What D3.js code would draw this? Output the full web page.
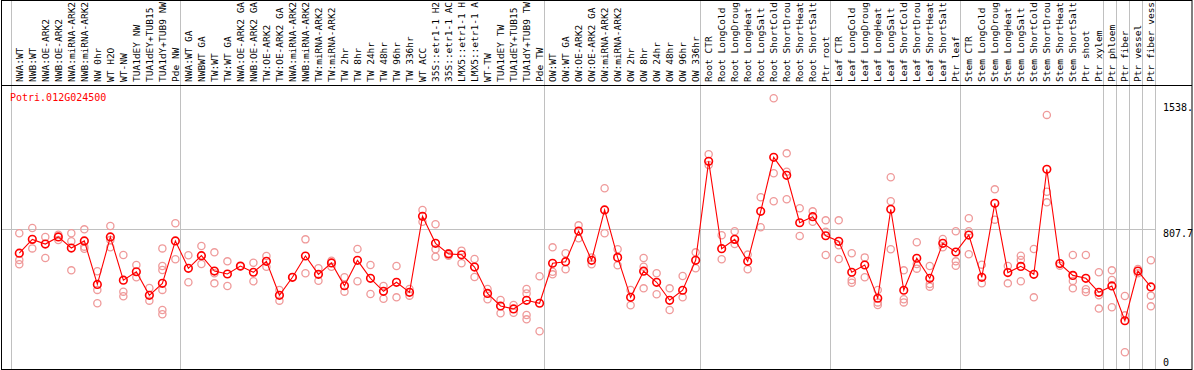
<!DOCTYPE html>
<html>
<head>
<meta charset="utf-8">
<script src="https://cdn.jsdelivr.net/npm/d3@7"></script>
<style>
  html, body { margin: 0; padding: 0; background: #fff; }
  svg { display: block; }
  text { font-family: "DejaVu Sans Mono", monospace; font-size: 10px; }
  text.sample { font-size: 9.5px; }
</style>
</head>
<body>
<div id="chart"></div>
<script>
// Expression profile - one gene across samples

const geneName = 'Potri.012G024500';

// Sample labels (as shown, cut at 14 chars)
const categories = [
    'NWA:WT', 'NWB:WT', 'NWA:OE-ARK2', 'NWB:OE-ARK2', 'NWA:miRNA-ARK2', 'NWB:miRNA-ARK2',
    'NW 0hr', 'WT H2O', 'WT-NW', 'TUA1dEY NW', 'TUA1dEY+TUB15', 'TUA1dY+TUB9 NW', 'Pde NW',
    'NWA:WT GA', 'NWBWT GA', 'TW:WT', 'TW:WT GA', 'NWA:OE-ARK2 GA', 'NWB:OE-ARK2 GA',
    'TW:OE-ARK2', 'TW:OE-ARK2 GA', 'NWA:miRNA-ARK2', 'NWB:miRNA-ARK2', 'TW:miRNA-ARK2', 'TW:miRNA-ARK2',
    'TW 2hr', 'TW 8hr', 'TW 24hr', 'TW 48hr', 'TW 96hr', 'TW 336hr', 'WT ACC',
    '35S::etr1-1 H2', '35S::etr1-1 AC', 'LMX5::etr1-1 H', 'LMX5::etr1-1 A', 'WT-TW',
    'TUA1dEY TW', 'TUA1dEY+TUB15', 'TUA1dY+TUB9 TW', 'Pde TW',
    'OW:WT', 'OW:WT GA', 'OW:OE-ARK2', 'OW:OE-ARK2 GA', 'OW:miRNA-ARK2', 'OW:miRNA-ARK2',
    'OW 2hr', 'OW 8hr', 'OW 24hr', 'OW 48hr', 'OW 96hr', 'OW 336hr',
    'Root CTR', 'Root LongCold', 'Root LongDroug', 'Root LongHeat', 'Root LongSalt',
    'Root ShortCold', 'Root ShortDrou', 'Root ShortHeat', 'Root ShortSalt', 'Ptr root',
    'Leaf CTR', 'Leaf LongCold', 'Leaf LongDroug', 'Leaf LongHeat', 'Leaf LongSalt',
    'Leaf ShortCold', 'Leaf ShortDrou', 'Leaf ShortHeat', 'Leaf ShortSalt', 'Ptr leaf',
    'Stem CTR', 'Stem LongCold', 'Stem LongDroug', 'Stem LongHeat', 'Stem LongSalt',
    'Stem ShortCold', 'Stem ShortDrou', 'Stem ShortHeat', 'Stem ShortSalt', 'Ptr shoot', 'Ptr xylem',
    'Ptr phloem', 'Ptr fiber', 'Ptr vessel', 'Ptr fiber vess'
];

// Mean expression per sample
const means = [
    666, 746, 719, 760, 696, 737, 486, 760, 510, 559, 423, 492, 737,
    579, 652, 563, 546, 592, 556, 619, 423, 527, 650, 544, 610, 478, 625, 521, 446, 498, 440,
    879, 723, 662, 657, 586, 434, 361, 344, 394, 377,
    608, 617, 794, 625, 916, 642, 411, 562, 498, 394, 452, 625,
    1197, 692, 746, 619, 908, 1220, 1116, 842, 877, 767,
    735, 556, 598, 406, 920, 452, 637, 521, 723, 673,
    771, 527, 954, 554, 590, 544, 1151, 606, 538, 521, 440,
    477, 276, 563, 471
];

// Replicate values per sample
const replicates = [
    [781, 627, 602], [812, 694], [760, 638], [773, 742], [781, 735, 567], [804, 704, 692],
    [562, 454, 377], [823, 700, 742], [656, 444, 417], [598, 527], [465, 392],
    [694, 592, 569, 454, 338, 313], [839, 631],
    [654, 498], [708, 604], [671, 550, 492], [619, 477], [590], [611, 504], [650, 588],
    [454, 392], [527], [746, 550], [579, 507], [623, 588], [527, 444], [690, 504],
    [598, 430], [477, 403], [592, 411], [459, 421], [916, 848], [833, 689, 646],
    [666, 652], [681, 608], [633, 529], [459, 400], [396, 319], [367, 322],
    [459, 434, 309, 284], [533, 215],
    [700, 559, 544], [666, 573], [827, 752], [642, 602], [1041, 781], [689, 596],
    [454, 365], [638, 588, 463], [550, 429], [463, 338], [534, 411], [671, 579],
    [1238, 1176], [770, 631], [793, 719], [658, 573], [989, 816], [1561, 1128, 966],
    [1243, 1137, 978], [926, 766], [908, 848], [856, 790, 656],
    [856, 712, 633], [666, 511, 496], [642, 527], [454, 382, 367], [1105, 966, 689],
    [567, 400, 382], [729, 604, 577], [592, 488, 473], [748, 700], [793, 619, 594],
    [868, 793, 660], [600, 492], [1035, 860], [592, 492], [652, 627, 504], [690, 411],
    [1465, 1021, 960], [594], [656, 506, 463], [656, 458, 442], [556, 423, 346],
    [567, 511, 354], [419, 307, 94], [575, 550], [625, 421, 359]
];

// Column indices where a new sample group starts
const groupBreaks = [0, 13, 41, 53, 63, 73, 84, 85, 86, 87, 88];

// Value axis labels
const yTicks = [0, 807.7, 1538.5];
const yTickLabels = ['0', '807.7', '1538.'];

const width = 1194;
const height = 370;
const headerBottom = 85;
const plotBottom = 369;
const meanColor = '#ff0000';
const repColor = '#ef9a9a';

function renderChart() {
    const svg = d3.select('#chart')
        .append('svg')
        .attr('width', width)
        .attr('height', height);

    const x = d3.scaleBand()
        .domain(d3.range(categories.length))
        .range([10.7, 1155.3]);
    const cx = i => x(i) + 8.6;

    const y = d3.scaleLinear()
        .domain([0, 1538.5])
        .range([368.5, 102.2]);

    // grid lines
    const grid = svg.append('g');
    grid.selectAll('line.v')
        .data(groupBreaks)
        .enter().append('line')
        .attr('class', 'v')
        .attr('x1', d => Math.round(d === categories.length ? x.range()[1] : x(d)) + 0.5)
        .attr('x2', d => Math.round(d === categories.length ? x.range()[1] : x(d)) + 0.5)
        .attr('y1', 0)
        .attr('y2', plotBottom)
        .style('stroke', '#c0c0c0')
        .style('stroke-width', 1);

    grid.append('line')
        .attr('x1', 1)
        .attr('x2', x.range()[1])
        .attr('y1', Math.round(y(807.7)) + 0.5)
        .attr('y2', Math.round(y(807.7)) + 0.5)
        .style('stroke', '#c0c0c0')
        .style('stroke-width', 1);

    // frame
    svg.append('rect')
        .attr('x', 1.5)
        .attr('y', 0.5)
        .attr('width', 1190.5)
        .attr('height', plotBottom)
        .style('fill', 'none')
        .style('stroke', '#000')
        .style('stroke-width', 1);
    svg.append('line')
        .attr('x1', 1)
        .attr('x2', 1192)
        .attr('y1', headerBottom + 0.5)
        .attr('y2', headerBottom + 0.5)
        .style('stroke', '#000')
        .style('stroke-width', 1.2);

    // sample labels (vertical)
    svg.append('g')
        .selectAll('text')
        .data(categories)
        .enter().append('text')
        .attr('class', 'sample')
        .attr('transform', (d, i) => `translate(${cx(i) + 3.5},${headerBottom - 3}) rotate(-90)`)
        .style('fill', '#000')
        .text(d => d);

    // gene name
    svg.append('text')
        .attr('x', 10)
        .attr('y', 101)
        .style('fill', meanColor)
        .text(geneName);

    // value axis labels
    svg.append('g')
        .selectAll('text')
        .data(yTicks)
        .enter().append('text')
        .attr('x', 1163)
        .attr('y', d => Math.min(y(d) + 8.8, 366))
        .style('fill', '#000')
        .text((d, i) => yTickLabels[i]);

    // replicate points
    const reps = [];
    replicates.forEach((vals, i) => vals.forEach(v => reps.push({ i: i, v: v })));
    svg.append('g')
        .selectAll('circle')
        .data(reps)
        .enter().append('circle')
        .attr('cx', d => cx(d.i))
        .attr('cy', d => y(d.v))
        .attr('r', 3.6)
        .style('fill', 'none')
        .style('stroke', repColor)
        .style('stroke-width', 1.3);

    // mean line
    const line = d3.line()
        .x((d, i) => cx(i))
        .y(d => y(d));
    svg.append('path')
        .datum(means)
        .attr('d', line)
        .style('fill', 'none')
        .style('stroke', meanColor)
        .style('stroke-width', 1.1);

    // mean points
    svg.append('g')
        .selectAll('circle')
        .data(means)
        .enter().append('circle')
        .attr('cx', (d, i) => cx(i))
        .attr('cy', d => y(d))
        .attr('r', 3.8)
        .style('fill', 'none')
        .style('stroke', meanColor)
        .style('stroke-width', 1.6);
}

document.addEventListener('DOMContentLoaded', renderChart);
</script>
</body>
</html>
